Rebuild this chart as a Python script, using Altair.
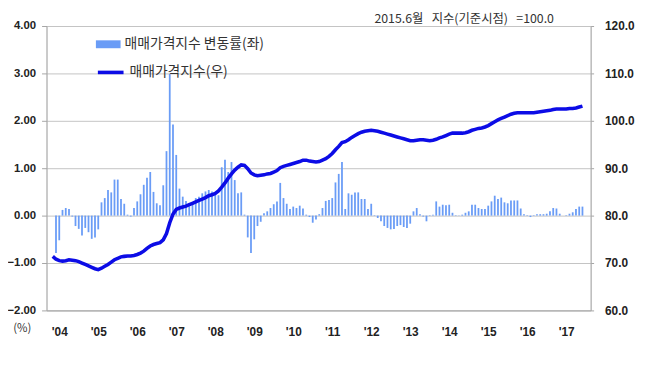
import json
import altair as alt
import pandas as pd

# ---- data (monthly, Nov 2003 - Jun 2017) ----
BAR_NAME = "매매가격지수 변동률(좌)"
LINE_NAME = "매매가격지수(우)"
NOTE = "2015.6월\u00a0\u00a0 지수(기준시점)\u00a0\u00a0 =100.0"

chg_2003 = [None, -0.79]
chg_2004 = [-0.52, 0.12, 0.16, 0.14, -0.02, -0.22, -0.28, -0.42, -0.26, -0.35, -0.49, -0.46]
chg_2005 = [-0.29, 0.28, 0.37, 0.54, 0.49, 0.76, 0.76, 0.35, 0.25, 0.02, -0.02, 0.16]
chg_2006 = [0.30, 0.45, 0.65, 0.80, 0.92, 0.50, 0.26, 0.22, 0.64, 1.36, 2.99, 1.92]
chg_2007 = [1.28, 0.57, 0.40, 0.31, 0.20, 0.26, 0.37, 0.40, 0.47, 0.51, 0.54, 0.51]
chg_2008 = [0.44, 0.43, 1.02, 1.18, 0.92, 1.13, 0.75, 0.47, 0.49, 0.02, -0.46, -0.79]
chg_2009 = [-0.50, -0.22, -0.13, 0.05, 0.09, 0.16, 0.24, 0.30, 0.69, 0.37, 0.25, 0.14]
chg_2010 = [0.19, 0.16, 0.21, 0.15, 0.02, -0.03, -0.15, -0.08, 0.03, 0.16, 0.31, 0.33]
chg_2011 = [0.37, 0.70, 0.88, 1.13, 0.14, 0.47, 0.44, 0.49, 0.49, 0.35, 0.35, 0.14]
chg_2012 = [0.25, 0.01, -0.05, -0.12, -0.22, -0.26, -0.29, -0.28, -0.22, -0.20, -0.24, -0.26]
chg_2013 = [-0.17, 0.09, 0.16, 0.03, -0.02, -0.12, 0.01, 0.02, 0.30, 0.19, 0.23, 0.22]
chg_2014 = [0.23, 0.06, 0.01, 0.01, 0.02, 0.06, 0.09, 0.23, 0.23, 0.16, 0.14, 0.14]
chg_2015 = [0.21, 0.30, 0.42, 0.35, 0.38, 0.28, 0.26, 0.32, 0.32, 0.32, 0.15, 0.03]
chg_2016 = [0.01, -0.03, 0.01, 0.03, 0.03, 0.03, 0.04, 0.09, 0.16, 0.15, 0.04, 0.00]
chg_2017 = [0.01, 0.04, 0.07, 0.14, 0.19, 0.19]

idx_2003 = [71.4, 70.8]
idx_2004 = [70.5, 70.4, 70.5, 70.7, 70.6, 70.5, 70.3, 70.0, 69.7, 69.4, 69.1, 68.8]
idx_2005 = [68.6, 68.9, 69.3, 69.7, 70.2, 70.7, 71.0, 71.3, 71.4, 71.5, 71.5, 71.6]
idx_2006 = [71.8, 72.1, 72.5, 73.1, 73.6, 73.9, 74.1, 74.3, 74.9, 76.2, 78.5, 80.3]
idx_2007 = [81.3, 81.6, 81.8, 82.0, 82.3, 82.6, 82.9, 83.2, 83.5, 83.8, 84.2, 84.4]
idx_2008 = [84.7, 85.2, 86.0, 86.9, 87.9, 88.8, 89.6, 90.2, 90.7, 90.6, 89.9, 89.0]
idx_2009 = [88.6, 88.4, 88.5, 88.6, 88.8, 88.9, 89.2, 89.5, 90.1, 90.4, 90.6, 90.8]
idx_2010 = [91.0, 91.2, 91.4, 91.7, 91.7, 91.5, 91.4, 91.3, 91.4, 91.7, 92.0, 92.5]
idx_2011 = [93.1, 93.9, 94.6, 95.4, 95.6, 96.0, 96.5, 96.9, 97.3, 97.6, 97.8, 97.9]
idx_2012 = [98.0, 97.9, 97.8, 97.6, 97.4, 97.2, 97.0, 96.8, 96.6, 96.4, 96.2, 96.0]
idx_2013 = [95.8, 95.8, 95.9, 96.0, 96.0, 95.9, 95.8, 95.9, 96.1, 96.4, 96.6, 96.9]
idx_2014 = [97.2, 97.4, 97.4, 97.4, 97.4, 97.5, 97.7, 98.0, 98.2, 98.4, 98.5, 98.7]
idx_2015 = [99.0, 99.4, 99.8, 100.2, 100.5, 100.8, 101.1, 101.4, 101.6, 101.7, 101.7, 101.7]
idx_2016 = [101.7, 101.7, 101.7, 101.8, 101.9, 102.0, 102.1, 102.2, 102.4, 102.5, 102.5, 102.5]
idx_2017 = [102.5, 102.6, 102.6, 102.7, 102.9, 103.1]

year_labels = ["'04", "'05", "'06", "'07", "'08", "'09", "'10", "'11",
               "'12", "'13", "'14", "'15", "'16", "'17"]

change = (chg_2003 + chg_2004 + chg_2005 + chg_2006 + chg_2007 + chg_2008 + chg_2009
          + chg_2010 + chg_2011 + chg_2012 + chg_2013 + chg_2014 + chg_2015 + chg_2016 + chg_2017)
index_vals = (idx_2003 + idx_2004 + idx_2005 + idx_2006 + idx_2007 + idx_2008 + idx_2009
              + idx_2010 + idx_2011 + idx_2012 + idx_2013 + idx_2014 + idx_2015 + idx_2016 + idx_2017)

months = pd.period_range("2003-11", periods=len(change), freq="M").astype(str)
df = pd.DataFrame({
    "i": list(range(len(change))),
    "month": months,
    "change": change,
    "index": index_vals,
    "s_bar": BAR_NAME,
    "s_line": LINE_NAME,
})

BAR_COLOR = "#6a9cf6"
LINE_COLOR = "#0c0ce6"
KFONT = "Noto Sans CJK KR"
NFONT = "Liberation Sans"

jan_ticks = [2 + 12 * k for k in range(len(year_labels))]
label_expr = "[" + ",".join(json.dumps(l) for l in year_labels) + "][round((datum.value-2)/12)]"

x_enc = alt.X(
    "i:Q",
    scale=alt.Scale(domain=[-0.4, 164.0], nice=False, zero=False),
    axis=alt.Axis(values=jan_ticks, labelExpr=label_expr, title=None, grid=False,
                  ticks=False, domain=True, domainColor="#a6a6a6",
                  labelFont=NFONT, labelFontWeight="bold", labelFontSize=12,
                  labelColor="#222222", labelPadding=16, labelFlush=False),
)

bars = alt.Chart(df).mark_bar(size=1.8, orient="vertical").encode(
    x=x_enc,
    y=alt.Y("change:Q",
            scale=alt.Scale(domain=[-2, 4], nice=False),
            axis=alt.Axis(orient="left", values=[-2, -1, 0, 1, 2, 3, 4], format=".2f",
                          grid=True, gridColor="#c3c3c3", gridWidth=1,
                          domainColor="#a6a6a6", tickColor="#a6a6a6", tickSize=5,
                          labelFont=NFONT, labelFontWeight="bold", labelFontSize=11.5,
                          labelColor="#222222", labelPadding=6,
                          title="(%)", titleAngle=0, titleX=-25, titleY=306,
                          titleAlign="center", titleBaseline="middle",
                          titleFont=KFONT, titleFontSize=11.5, titleFontWeight="normal",
                          titleColor="#333333")),
    color=alt.Color("s_bar:N",
                    scale=alt.Scale(domain=[BAR_NAME], range=[BAR_COLOR]),
                    legend=alt.Legend(title=None, orient="none", legendX=50, legendY=6,
                                      symbolType="M-1,-0.32L1,-0.32L1,0.32L-1,0.32Z",
                                      symbolSize=625, symbolStrokeWidth=0,
                                      symbolOpacity=1, labelOffset=4,
                                      labelFont=KFONT, labelFontSize=14,
                                      labelColor="#333333", padding=0)),
)

line = alt.Chart(df).mark_line(strokeWidth=3.6).encode(
    x=alt.X("i:Q"),
    y=alt.Y("index:Q",
            scale=alt.Scale(domain=[60, 120], nice=False, zero=False),
            axis=alt.Axis(orient="right", values=[60, 70, 80, 90, 100, 110, 120], format=".1f",
                          grid=False, domainColor="#a6a6a6", tickColor="#a6a6a6", tickSize=3,
                          labelFont=NFONT, labelFontWeight="bold", labelFontSize=12,
                          labelColor="#222222", labelPadding=11, title=None)),
    color=alt.Color("s_line:N",
                    scale=alt.Scale(domain=[LINE_NAME], range=[LINE_COLOR]),
                    legend=alt.Legend(title=None, orient="none", legendX=50, legendY=32,
                                      symbolType="stroke", symbolSize=676,
                                      symbolStrokeWidth=3.6, labelOffset=4,
                                      labelFont=KFONT, labelFontSize=14,
                                      labelColor="#333333", padding=0)),
)

chart = alt.layer(bars, line).resolve_scale(
    y="independent", color="independent"
).properties(
    width=551,
    height=288,
    padding={"left": 39, "top": 16, "right": 52, "bottom": 50},
    autosize=alt.AutoSizeParams(type="none"),
    title=alt.TitleParams(NOTE, anchor="start", frame="group", dx=332, offset=-5, font=KFONT,
                          fontSize=12.5, fontWeight="normal", color="#333333"),
).configure_view(stroke=None).configure(font=KFONT)

chart.save("out.html", embed_options={"renderer": "svg", "actions": False})
